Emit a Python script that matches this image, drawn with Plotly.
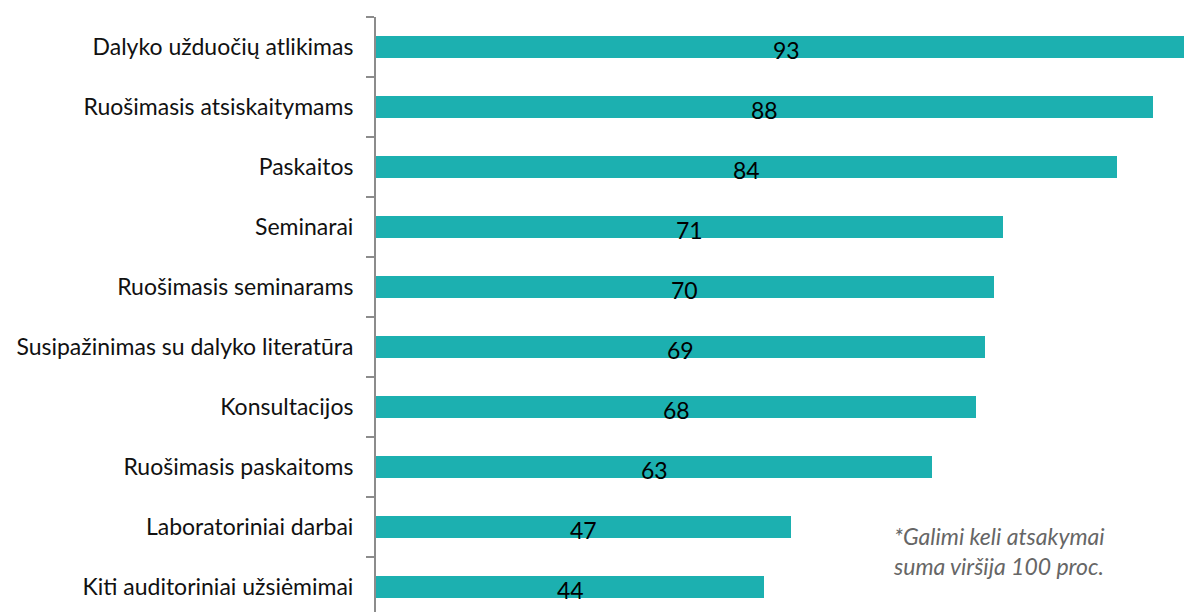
import plotly.graph_objects as go

categories = [
    "Dalyko užduočių atlikimas",
    "Ruošimasis atsiskaitymams",
    "Paskaitos",
    "Seminarai",
    "Ruošimasis seminarams",
    "Susipažinimas su dalyko literatūra",
    "Konsultacijos",
    "Ruošimasis paskaitoms",
    "Laboratoriniai darbai",
    "Kiti auditoriniai užsiėmimai",
]
values = [93, 88, 84, 71, 70, 69, 68, 63, 47, 44]
footnote = "*Galimi keli atsakymai<br>suma viršija 100 proc."

BAR_COLOR = "#1CB0B0"
AXIS_COLOR = "#8C8C8C"
FONT = "Lato"

fig = go.Figure()
fig.add_trace(go.Bar(
    x=values,
    y=categories,
    orientation="h",
    marker=dict(color=BAR_COLOR, line=dict(width=0)),
    width=0.375,
    hoverinfo="x+y",
))

for c, v in zip(categories, values):
    fig.add_annotation(
        x=v / 2, y=c, xref="x", yref="y",
        text=str(v), showarrow=False,
        font=dict(family=FONT, size=23, color="#000000"),
        yshift=-3,
    )

fig.add_annotation(
    x=0.637, y=0.1025, xref="paper", yref="paper",
    xanchor="left", yanchor="middle", align="left",
    text=footnote, showarrow=False,
    font=dict(family=FONT, size=23, color="#666666", style="italic"),
)

fig.update_layout(
    width=1184, height=612,
    margin=dict(l=376, r=0, t=17, b=0, pad=0),
    paper_bgcolor="white", plot_bgcolor="white",
    showlegend=False,
    bargap=0,
)
fig.update_xaxes(
    range=[0, 91.55], visible=False, showgrid=False, zeroline=False,
)
fig.update_yaxes(
    type="category",
    categoryorder="array", categoryarray=categories,
    range=[9.417, -0.5],
    showline=True, linecolor=AXIS_COLOR, linewidth=2,
    ticks="outside", tickson="boundaries", ticklen=8, tickwidth=2, tickcolor=AXIS_COLOR,
    showgrid=False, zeroline=False,
    tickfont=dict(family=FONT, size=23, color="#111111"),
    ticklabelstandoff=16,
)

fig.write_html(
    "out.html",
    config={"displayModeBar": False},
    post_script="document.body.style.margin='0';document.body.style.overflow='hidden';",
)
